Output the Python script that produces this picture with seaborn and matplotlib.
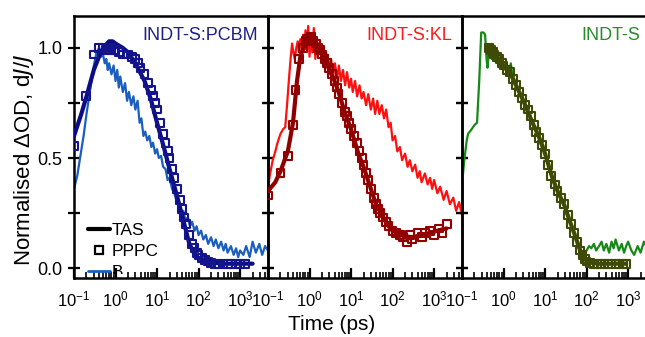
import numpy as np
import pandas as pd
import matplotlib
matplotlib.use("Agg")
import matplotlib.pyplot as plt
from matplotlib.lines import Line2D
from matplotlib.ticker import LogLocator, NullFormatter, FixedLocator
from matplotlib.transforms import Bbox, TransformedBbox
import seaborn as sns

sns.set_theme(style="white")
plt.rcParams['font.family'] = ['Liberation Sans', 'DejaVu Sans']
plt.rcParams['mathtext.default'] = 'regular'
for k in ["text.color", "axes.labelcolor", "xtick.color", "ytick.color", "axes.edgecolor"]:
    plt.rcParams[k] = "black"

# ---------------- data ----------------
panel_titles = ["INDT-S:PCBM", "INDT-S:KL", "INDT-S"]
legend_labels = ["TAS", "PPPC", "B"]
xtick_labels = ["10$^{-1}$", "10$^{0}$", "10$^{1}$", "10$^{2}$", "10$^{3}$"]
ytick_labels = ["0.0", "0.5", "1.0"]

# Panel 1: INDT-S:PCBM
pcbm_tas_t = [0.1, 0.15, 0.2, 0.3, 0.4, 0.5, 0.7, 0.85, 1.0, 1.5, 2, 3, 5, 7, 10, 15, 20, 30, 40,
              60, 80, 100, 150, 200, 400, 1000, 2000]
pcbm_tas_v = [0.60, 0.70, 0.78, 0.90, 0.96, 1.00, 1.03, 1.03, 1.02, 1.00, 0.98, 0.93, 0.85, 0.77,
              0.66, 0.54, 0.45, 0.33, 0.24, 0.11, 0.065, 0.045, 0.03, 0.025, 0.02, 0.02, 0.02]
pcbm_pppc_t = [0.1, 0.19, 0.3, 0.4, 0.5, 0.6, 0.7, 0.8, 0.9, 1.0, 1.2, 1.5, 2, 2.5, 3, 3.5, 4, 5, 6,
               7, 8, 9, 10, 12, 14, 16, 18, 20, 23, 26, 30, 35, 40, 45, 50, 60, 70, 80, 90, 100,
               120, 140, 170, 200, 250, 300, 400, 500, 600, 800, 1000, 1300]
pcbm_pppc_v = [0.555, 0.78, 0.97, 1.0, 1.0, 0.99, 0.99, 1.0, 0.99, 0.99, 0.98, 0.97, 0.97, 0.96,
               0.95, 0.93, 0.91, 0.88, 0.84, 0.81, 0.78, 0.75, 0.72, 0.66, 0.61, 0.57, 0.53, 0.50,
               0.45, 0.41, 0.36, 0.31, 0.27, 0.23, 0.20, 0.15, 0.11, 0.09, 0.07, 0.06, 0.045,
               0.035, 0.03, 0.025, 0.02, 0.02, 0.02, 0.018, 0.02, 0.02, 0.02, 0.02]
pcbm_b_t = [0.1, 0.12, 0.14, 0.17, 0.2, 0.25, 0.3, 0.35, 0.4, 0.45, 0.5, 0.55, 0.6, 0.65, 0.7, 0.8,
            0.9, 1.0, 1.1, 1.2, 1.3, 1.5, 1.7, 1.9, 2.1, 2.4, 2.7, 3.0, 3.4, 3.8, 4.2, 4.7, 5.2,
            5.8, 6.5, 7.3, 8, 9, 10, 11, 12.5, 14, 16, 18, 20, 23, 26, 30, 34, 38, 43, 48, 55,
            62, 70, 80, 90, 100, 115, 130, 150, 170, 200, 230, 260, 300, 350, 400, 450, 500,
            600, 700, 800, 900, 1000, 1200, 1400, 1700, 2000, 2400, 2900, 3400, 4000, 4700]
pcbm_b_v = [0.36, 0.42, 0.50, 0.60, 0.70, 0.82, 0.92, 0.98, 1.00, 0.96, 0.97, 0.93, 0.95, 0.90,
            0.93, 0.88, 0.92, 0.85, 0.90, 0.82, 0.87, 0.80, 0.84, 0.76, 0.80, 0.74, 0.78, 0.72,
            0.76, 0.66, 0.68, 0.60, 0.62, 0.58, 0.60, 0.55, 0.57, 0.52, 0.54, 0.50, 0.51, 0.46,
            0.45, 0.40, 0.41, 0.36, 0.34, 0.30, 0.29, 0.25, 0.26, 0.22, 0.23, 0.19, 0.21, 0.17,
            0.19, 0.15, 0.17, 0.13, 0.15, 0.11, 0.14, 0.10, 0.13, 0.09, 0.12, 0.08, 0.11, 0.07,
            0.10, 0.06, 0.09, 0.05, 0.08, 0.06, 0.10, 0.05, 0.12, 0.07, 0.11, 0.06, 0.10, 0.08]

# Panel 2: INDT-S:KL
kl_tas_t = [0.1, 0.15, 0.2, 0.3, 0.4, 0.5, 0.6, 0.8, 1.0, 1.3, 1.7, 2.2, 3, 4, 5, 7, 10, 15, 20,
            30, 40, 60, 80, 100, 150, 200, 300, 500, 800, 1200, 2000]
kl_tas_v = [0.35, 0.39, 0.44, 0.53, 0.66, 0.85, 0.96, 1.03, 1.05, 1.04, 1.00, 0.96, 0.90, 0.85,
            0.80, 0.71, 0.63, 0.52, 0.46, 0.36, 0.29, 0.23, 0.19, 0.17, 0.15, 0.145, 0.14, 0.15,
            0.16, 0.17, 0.18]
kl_pppc_t = [0.1, 0.2, 0.31, 0.4, 0.46, 0.57, 0.7, 0.8, 0.9, 1.0, 1.1, 1.25, 1.4, 1.6, 1.8, 2.0,
             2.3, 2.6, 3, 3.5, 4, 4.5, 5, 6, 7, 8, 9, 10, 12, 14, 16, 18, 20, 23, 26, 30, 35, 40,
             45, 50, 60, 70, 80, 100, 120, 150, 180, 220, 260, 300, 400, 500, 600, 800, 1000,
             1300, 1600, 2000]
kl_pppc_v = [0.33, 0.43, 0.51, 0.65, 0.81, 0.95, 1.0, 1.03, 1.04, 1.04, 1.05, 1.03, 1.02, 1.0,
             0.99, 0.97, 0.95, 0.93, 0.91, 0.88, 0.85, 0.82, 0.79, 0.75, 0.71, 0.69, 0.66, 0.63,
             0.60, 0.57, 0.53, 0.50, 0.47, 0.43, 0.40, 0.36, 0.32, 0.29, 0.27, 0.25, 0.23, 0.21,
             0.19, 0.17, 0.16, 0.15, 0.14, 0.12, 0.15, 0.13, 0.16, 0.14, 0.16, 0.17, 0.15,
             0.18, 0.16, 0.20]
kl_red_t = [0.1, 0.11, 0.13, 0.15, 0.17, 0.2, 0.23, 0.26, 0.29, 0.32, 0.35, 0.38, 0.41, 0.44,
            0.48, 0.52, 0.56, 0.6, 0.65, 0.7, 0.75, 0.8, 0.86, 0.93, 1.0, 1.08, 1.17, 1.27, 1.38,
            1.5, 1.65, 1.8, 2.0, 2.2, 2.45, 2.7, 3.0, 3.3, 3.7, 4.1, 4.6, 5.1, 5.7, 6.4, 7.2, 8,
            9, 10, 11, 12.5, 14, 16, 18, 20, 23, 26, 30, 34, 38, 43, 48, 55, 62, 70, 80, 90,
            100, 115, 130, 150, 170, 200, 230, 260, 300, 350, 400, 450, 500, 600, 700, 800, 900,
            1000, 1200, 1400, 1700, 2000, 2400, 2900, 3400, 4000, 4700]
kl_red_v = [0.36, 0.42, 0.49, 0.53, 0.57, 0.61, 0.63, 0.64, 0.75, 0.86, 0.95, 1.02, 0.98, 0.95,
            1.00, 1.03, 0.98, 1.04, 1.00, 1.06, 0.99, 1.08, 1.00, 1.10, 0.96, 1.06, 0.98, 1.09,
            0.95, 1.03, 0.97, 1.01, 0.94, 0.99, 0.92, 0.97, 0.90, 0.95, 0.87, 0.93, 0.86, 0.92,
            0.85, 0.90, 0.83, 0.89, 0.82, 0.86, 0.80, 0.85, 0.78, 0.83, 0.77, 0.80, 0.74, 0.79,
            0.72, 0.77, 0.70, 0.76, 0.70, 0.74, 0.68, 0.72, 0.64, 0.66, 0.58, 0.60, 0.53, 0.55,
            0.49, 0.52, 0.46, 0.49, 0.44, 0.47, 0.41, 0.44, 0.39, 0.43, 0.38, 0.41, 0.36, 0.40,
            0.34, 0.37, 0.31, 0.35, 0.29, 0.32, 0.26, 0.30, 0.24]

# Panel 3: INDT-S (neat)
neat_tas_t = [0.45, 0.6, 0.8, 1.0, 1.5, 2, 3, 5, 7, 10, 15, 20, 30, 40, 50, 70, 90, 120, 200,
              400, 900]
neat_tas_v = [1.0, 0.97, 0.95, 0.92, 0.88, 0.83, 0.76, 0.66, 0.60, 0.52, 0.41, 0.35, 0.28, 0.21,
              0.16, 0.08, 0.04, 0.025, 0.02, 0.02, 0.02]
neat_pppc_t = [0.45, 0.5, 0.55, 0.6, 0.7, 0.8, 0.9, 1.0, 1.2, 1.4, 1.7, 2.0, 2.4, 2.8, 3.3, 3.8,
               4.5, 5.3, 6.2, 7.3, 8.5, 10, 12, 14, 17, 20, 24, 29, 35, 42, 50, 60, 70, 80, 90,
               100, 120, 150, 180, 220, 270, 330, 400, 500, 600, 750, 900]
neat_pppc_v = [1.0, 0.99, 0.98, 0.97, 0.96, 0.95, 0.93, 0.92, 0.90, 0.89, 0.86, 0.83, 0.80,
               0.77, 0.74, 0.72, 0.69, 0.65, 0.62, 0.59, 0.56, 0.52, 0.47, 0.42, 0.38, 0.35,
               0.32, 0.29, 0.24, 0.20, 0.16, 0.12, 0.08, 0.06, 0.04, 0.03, 0.025, 0.02, 0.02,
               0.02, 0.02, 0.02, 0.02, 0.02, 0.02, 0.02, 0.02]
neat_green_t = [0.1, 0.115, 0.13, 0.14, 0.17, 0.2, 0.23, 0.26, 0.29, 0.33, 0.36, 0.39, 0.41,
                0.44, 0.48, 0.52, 0.57, 0.62, 0.68, 0.75, 0.82, 0.9, 1.0, 1.1, 1.2, 1.35, 1.5,
                1.65, 1.8, 2.0, 2.2, 2.5, 2.8, 3.1, 3.5, 3.9, 4.4, 5, 5.6, 6.3, 7, 8, 9, 10,
                11.5, 13, 14.5, 16, 18, 20, 23, 26, 30, 34, 38, 43, 48, 55, 62, 70, 80, 90,
                100, 115, 130, 150, 170, 200, 230, 260, 300, 350, 400, 450, 500, 600, 700, 800,
                900, 1000, 1200, 1400, 1700, 2000, 2400, 2900, 3400, 4000, 4700]
neat_green_v = [0.38, 0.50, 0.58, 0.61, 0.63, 0.65, 0.66, 0.85, 1.07, 1.07, 1.06, 0.95, 0.91,
                0.97, 0.98, 0.95, 0.97, 0.94, 0.96, 0.93, 0.95, 0.92, 0.93, 0.90, 0.92, 0.89,
                0.93, 0.87, 0.86, 0.83, 0.82, 0.79, 0.78, 0.75, 0.74, 0.71, 0.69, 0.66, 0.64,
                0.61, 0.60, 0.57, 0.56, 0.52, 0.49, 0.44, 0.41, 0.39, 0.37, 0.35, 0.32, 0.30,
                0.28, 0.24, 0.22, 0.19, 0.17, 0.14, 0.12, 0.09, 0.07, 0.06, 0.08, 0.10, 0.09,
                0.11, 0.08, 0.10, 0.12, 0.08, 0.11, 0.07, 0.12, 0.09, 0.13, 0.08, 0.11, 0.07,
                0.10, 0.12, 0.08, 0.06, 0.10, 0.07, 0.12, 0.09, 0.13, 0.10, 0.12]

panels = [
    dict(tas=(pcbm_tas_t, pcbm_tas_v), pppc=(pcbm_pppc_t, pcbm_pppc_v), b=(pcbm_b_t, pcbm_b_v),
         c_tas="#0c0c85", c_sq="#14148c", c_b="#1a5fc0", c_title="#1f1f88"),
    dict(tas=(kl_tas_t, kl_tas_v), pppc=(kl_pppc_t, kl_pppc_v), b=(kl_red_t, kl_red_v),
         c_tas="#8e0000", c_sq="#930000", c_b="#ff1010", c_title="#ff1a1a"),
    dict(tas=(neat_tas_t, neat_tas_v), pppc=(neat_pppc_t, neat_pppc_v), b=(neat_green_t, neat_green_v),
         c_tas="#3e4a06", c_sq="#3e4a06", c_b="#168a16", c_title="#2a8c2a"),
]

# ---------------- figure ----------------
W, H = 645, 337
fig = plt.figure(figsize=(W / 100, H / 100), dpi=100)
fig.patch.set_facecolor("white")

ax_left_px = [74, 268, 462]
ax_w_px = 194
ax_top_px, ax_bot_px = 16, 278

for i, p in enumerate(panels):
    ax = fig.add_axes([ax_left_px[i] / W, 1 - ax_bot_px / H, ax_w_px / W, (ax_bot_px - ax_top_px) / H])
    ax.set_facecolor("none")
    ax.set_xscale("log")

    df_b = pd.DataFrame({"t": p["b"][0], "v": p["b"][1]})
    df_tas = pd.DataFrame({"t": p["tas"][0], "v": p["tas"][1]})
    df_sq = pd.DataFrame({"t": p["pppc"][0], "v": p["pppc"][1]})

    sns.lineplot(data=df_b, x="t", y="v", ax=ax, color=p["c_b"], lw=1.6, estimator=None, sort=False, zorder=2)
    sns.lineplot(data=df_tas, x="t", y="v", ax=ax, color=p["c_tas"], lw=3.0, estimator=None, sort=False, zorder=3)
    sns.scatterplot(data=df_sq, x="t", y="v", ax=ax, marker="s", s=32, facecolor="none",
                    edgecolor=p["c_sq"], linewidth=1.5, zorder=4)

    ax.set_xlim(0.1, 4700)
    ax.set_ylim(-0.045, 1.145)
    ax.set_xlabel("")
    ax.set_ylabel("")

    ax.xaxis.set_major_locator(FixedLocator([0.1, 1, 10, 100, 1000]))
    ax.set_xticklabels(xtick_labels)
    ax.xaxis.set_minor_locator(LogLocator(base=10, subs=np.arange(2, 10), numticks=20))
    ax.xaxis.set_minor_formatter(NullFormatter())
    ax.yaxis.set_major_locator(FixedLocator([0, 0.25, 0.5, 0.75, 1.0]))
    if i == 0:
        ax.set_yticklabels([ytick_labels[0], "", ytick_labels[1], "", ytick_labels[2]])
    else:
        ax.set_yticklabels([])

    ax.tick_params(axis="x", which="major", direction="in", length=7, width=1.6, bottom=True,
                   top=False, labelsize=12, pad=8, colors="black")
    ax.tick_params(axis="x", which="minor", direction="in", length=4, width=1.2, bottom=True, top=False)
    ax.tick_params(axis="y", which="major", direction="inout", length=9, width=1.6, left=True,
                   right=True, labelsize=13, pad=4)
    for s in ax.spines.values():
        s.set_linewidth(1.8)
        s.set_color("black")
        s.set_visible(True)

    ax.text(0.948 if i < 2 else 0.918, 0.925, panel_titles[i], transform=ax.transAxes,
            ha="right", va="center", fontsize=13, color=p["c_title"])

    if i == 0:
        handles = [Line2D([], [], color="black", lw=3),
                   Line2D([], [], color="black", lw=0, marker="s", markersize=5.5,
                          markerfacecolor="none", markeredgewidth=1.6),
                   Line2D([], [], color=p["c_b"], lw=2)]
        leg = ax.legend(handles, legend_labels, loc="upper left", bbox_to_anchor=(0.07, 0.212),
                        frameon=False, fontsize=12.5, handlelength=1.3, handletextpad=0.1,
                        labelspacing=0.36, borderaxespad=0, borderpad=0)
        clip = TransformedBbox(Bbox([[0, 0.014], [1, 1]]), ax.transAxes)
        for a in leg.findobj():
            if a is not leg:
                a.set_clip_box(clip)
                a.set_clip_on(True)

fig.text(24 / W, 1 - 160 / H, "Normalised $\\Delta$OD, d$\\it{J}$/$\\it{J}$", rotation=90,
         ha="center", va="center", fontsize=16)
fig.text(332 / W, 1 - 325 / H, "Time (ps)", ha="center", va="center", fontsize=15)

fig.savefig("out.png", dpi=100, facecolor="white")
